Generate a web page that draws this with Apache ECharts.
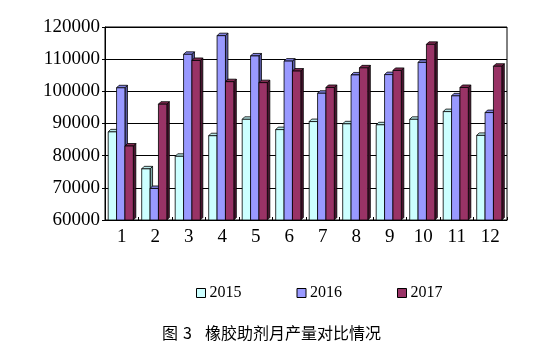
<!DOCTYPE html>
<html><head><meta charset="utf-8">
<script src="https://cdn.jsdelivr.net/npm/echarts@6/dist/echarts.min.js"></script>
<style>html,body{margin:0;padding:0;background:#fff}#c{width:549px;height:359px}</style>
</head><body><div id="c"></div>
<script>
const months = ['1','2','3','4','5','6','7','8','9','10','11','12'];
const seriesNames = ['2015','2016','2017'];
const v2015 = [87400, 75900, 79800, 86200, 91300, 88100, 90600, 89900, 89600, 91300, 93700, 86300];
const v2016 = [101100, 69800, 111500, 117300, 111000, 109400, 99400, 105100, 105200, 109000, 98600, 93400];
const v2017 = [83000, 96000, 109600, 103000, 102700, 106300, 101200, 107300, 106500, 114600, 101200, 107800];
const colors = ['#CCFFFF', '#9999FF', '#993366'];
const sideColors = ['#7FA8A8', '#5C5CA8', '#4A1430'];
const topColors = ['#B8E8E8', '#8080E0', '#802850'];
const yMin = 60000, yMax = 120000, yStep = 10000;

const chart = echarts.init(document.getElementById('c'));

function makeRender(sIdx) {
  return function (params, api) {
    const cat = api.value(0), val = api.value(1);
    const p = api.coord([cat, val]);
    const b = api.coord([cat, yMin]);
    const band = api.size([1, 0])[0];
    const w = band * 0.25;
    const d = 2.5;
    const x0 = p[0] - 1.5 * w - 1 + sIdx * w;
    const top = p[1], base = b[1];
    const ls = {stroke: '#000', lineWidth: 0.8};
    return {
      type: 'group',
      children: [
        {type: 'polygon', shape: {points: [[x0 + w, top], [x0 + w + d, top - d], [x0 + w + d, base - d], [x0 + w, base]]},
          style: Object.assign({fill: sideColors[sIdx]}, ls)},
        {type: 'polygon', shape: {points: [[x0, top], [x0 + d, top - d], [x0 + w + d, top - d], [x0 + w, top]]},
          style: Object.assign({fill: topColors[sIdx]}, ls)},
        {type: 'rect', shape: {x: x0, y: top, width: w, height: base - top},
          style: Object.assign({fill: colors[sIdx]}, ls)}
      ]
    };
  };
}

const allVals = [v2015, v2016, v2017];
const series = allVals.map((vals, i) => ({
  name: seriesNames[i],
  type: 'custom',
  renderItem: makeRender(i),
  itemStyle: {color: colors[i], borderColor: '#000', borderWidth: 1},
  encode: {x: 0, y: 1},
  data: vals.map((v, k) => [k, v]),
  z: 2 + i
}));

chart.setOption({
  backgroundColor: '#fff',
  animation: false,
  grid: {left: 105, right: 42, top: 27, bottom: 139, show: true, borderColor: '#000', borderWidth: 1},
  legend: {
    data: seriesNames,
    left: 191, top: 280,
    icon: 'rect', itemWidth: 9, itemHeight: 9, itemGap: 55,
    textStyle: {fontFamily: 'Liberation Serif', fontSize: 16, color: '#000', padding: [0, 0, 0, -1]},
    itemStyle: {borderColor: '#000', borderWidth: 1}
  },
  graphic: [
    {type: 'text', left: 162, top: 325, style: {text: '图', font: '16px "Noto Sans CJK SC"', fill: '#000'}},
    {type: 'text', left: 183, top: 325, style: {text: '3', font: '16px "Noto Sans CJK SC"', fill: '#000'}},
    {type: 'text', left: 205, top: 325, style: {text: '橡胶助剂月产量对比情况', font: '16px "Noto Sans CJK SC"', fill: '#000'}}
  ],
  xAxis: {
    type: 'category', data: months,
    axisLine: {lineStyle: {color: '#000', width: 1}},
    axisTick: {show: true, inside: true, length: 3, lineStyle: {color: '#000'}},
    axisLabel: {fontFamily: 'Liberation Serif', fontSize: 19, color: '#000', margin: 8},
    splitLine: {show: false}
  },
  yAxis: {
    type: 'value', min: yMin, max: yMax, interval: yStep,
    axisLine: {show: true, lineStyle: {color: '#000'}},
    axisTick: {show: true, length: 3, lineStyle: {color: '#000'}},
    axisLabel: {fontFamily: 'Liberation Serif', fontSize: 19, color: '#000', margin: 5, formatter: v => String(v)},
    splitLine: {show: true, lineStyle: {color: '#000', width: 1}}
  },
  series: series
});
</script></body></html>
